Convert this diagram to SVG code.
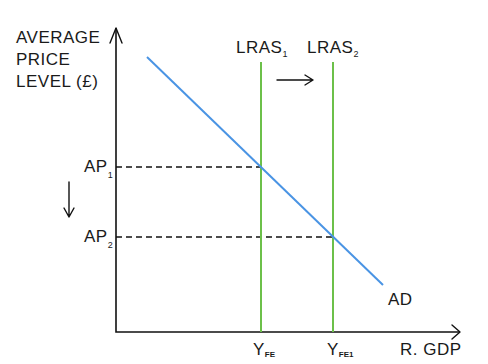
<svg xmlns="http://www.w3.org/2000/svg" width="488" height="364" viewBox="0 0 488 364">
<style>
text{font-family:"Liberation Sans",Arial,sans-serif;fill:#1a1a1a;font-size:17px;letter-spacing:0.5px}
.sub{font-size:9px;letter-spacing:0}
.tiny{font-size:8px;font-weight:bold;letter-spacing:0}
.axis{stroke:#111;stroke-width:1.6;fill:none}
.head{stroke:#111;stroke-width:1.4;fill:none;stroke-linecap:round;stroke-linejoin:round}
.dash{stroke:#111;stroke-width:1.4;stroke-dasharray:6 4;fill:none}
.lras{stroke:#6cc04a;stroke-width:2;fill:none}
.ad{stroke:#4a94e4;stroke-width:2;fill:none}
</style>
<rect width="488" height="364" fill="#fff"/>
<g id="axes">
<path class="axis" d="M116,28 V332 H460"/>
<path class="head" d="M110,43 L116,28 L122,43"/>
<path class="head" d="M452,325 L460,332 L452,339"/>
</g>
<g id="y-label">
<text x="16" y="43">AVERAGE</text>
<text x="16" y="65">PRICE</text>
<text x="16" y="87">LEVEL (£)</text>
</g>
<g id="x-label"><text x="400" y="355">R. GDP</text></g>
<g id="connectors">
<path class="dash" d="M116,167 H261"/>
<path class="dash" d="M116,237 H333"/>
</g>
<g id="lras1">
<path class="lras" d="M261,62 V332"/>
<text x="236" y="53">LRAS<tspan class="sub" dy="4">1</tspan></text>
</g>
<g id="lras2">
<path class="lras" d="M333,62 V332"/>
<text x="307" y="53">LRAS<tspan class="sub" dy="4">2</tspan></text>
</g>
<g id="shift-arrow">
<path class="head" d="M277,80 H313 M305,75 L313,80 L305,85"/>
</g>
<g id="ad">
<path class="ad" d="M147,57 L383,285"/>
<text x="388" y="305">AD</text>
</g>
<g id="ap1"><text x="84" y="172">AP<tspan class="sub" dy="6">1</tspan></text></g>
<g id="ap2"><text x="84" y="242">AP<tspan class="sub" dy="6">2</tspan></text></g>
<g id="down-arrow">
<path class="head" d="M69,182 V217 M64,208 L69,217 L74,208"/>
</g>
<g id="yfe"><text x="253" y="355">Y<tspan class="tiny" dy="2">FE</tspan></text></g>
<g id="yfe1"><text x="327" y="355">Y<tspan class="tiny" dy="2">FE1</tspan></text></g>
</svg>
